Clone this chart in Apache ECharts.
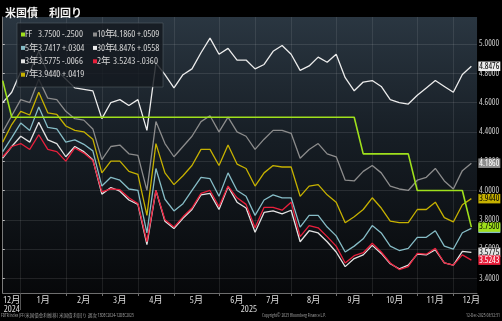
<!DOCTYPE html>
<html><head><meta charset="utf-8">
<script src="https://cdn.jsdelivr.net/npm/echarts@6/dist/echarts.min.js"></script>
<style>html,body{margin:0;padding:0;background:#000;}#c{width:502px;height:321px;}</style>
</head><body><div id="c"></div>
<script>
// Weekly (Friday) observation dates
const dates = ['2024-12-13','2024-12-20','2024-12-27','2025-01-03','2025-01-10','2025-01-17','2025-01-24','2025-01-31','2025-02-07','2025-02-14','2025-02-21','2025-02-28','2025-03-07','2025-03-14','2025-03-21','2025-03-28','2025-04-04','2025-04-11','2025-04-18','2025-04-25','2025-05-02','2025-05-09','2025-05-16','2025-05-23','2025-05-30','2025-06-06','2025-06-13','2025-06-20','2025-06-27','2025-07-04','2025-07-11','2025-07-18','2025-07-25','2025-08-01','2025-08-08','2025-08-15','2025-08-22','2025-08-29','2025-09-05','2025-09-12','2025-09-19','2025-09-26','2025-10-03','2025-10-10','2025-10-17','2025-10-24','2025-10-31','2025-11-07','2025-11-14','2025-11-21','2025-11-28','2025-12-05','2025-12-12'];

const ff  = [4.75,4.50,4.50,4.50,4.50,4.50,4.50,4.50,4.50,4.50, 4.50,4.50,4.50,4.50,4.50,4.50,4.50,4.50,4.50,4.50, 4.50,4.50,4.50,4.50,4.50,4.50,4.50,4.50,4.50,4.50, 4.50,4.50,4.50,4.50,4.50,4.50,4.50,4.50,4.50,4.50, 4.25,4.25,4.25,4.25,4.25,4.25, 4.00,4.00,4.00,4.00,4.00,4.00, 3.75];
const t10 = [4.40,4.51,4.62,4.60,4.76,4.63,4.62,4.54,4.49,4.48, 4.42,4.21,4.30,4.31,4.25,4.24,4.00,4.47,4.32,4.23, 4.30,4.37,4.47,4.51,4.40,4.50,4.40,4.37,4.28,4.35, 4.41,4.41,4.39,4.22,4.28,4.32,4.25,4.23,4.07,4.065, 4.13,4.17,4.12,4.03,4.01,4.00,4.07,4.09,4.15,4.065, 4.01,4.1351,4.1860];
const t30 = [4.60,4.67,4.81,4.81,4.95,4.80,4.82,4.76,4.70,4.69, 4.68,4.49,4.60,4.62,4.58,4.62,4.41,4.87,4.79,4.70, 4.79,4.83,4.94,5.04,4.93,4.97,4.89,4.89,4.83,4.86, 4.95,4.99,4.93,4.82,4.85,4.91,4.875,4.93,4.77,4.68, 4.74,4.75,4.71,4.62,4.60,4.59,4.65,4.70,4.75,4.71, 4.67,4.7918,4.8476];
const t7  = [4.33,4.45,4.54,4.515,4.67,4.53,4.52,4.44,4.41,4.40, 4.35,4.12,4.20,4.20,4.13,4.11,3.83,4.32,4.12,4.04, 4.10,4.17,4.28,4.28,4.17,4.31,4.18,4.15,4.03,4.12, 4.17,4.16,4.16,3.96,4.03,4.04,3.97,3.92,3.78,3.82, 3.87,3.95,3.88,3.79,3.78,3.78,3.87,3.87,3.92,3.815, 3.785,3.9021,3.9440];
const t5  = [4.265,4.36,4.46,4.41,4.57,4.43,4.42,4.33,4.345,4.315, 4.27,4.03,4.09,4.07,4.01,4.00,3.71,4.15,3.94,3.86, 3.91,4.00,4.09,4.08,3.96,4.12,4.00,3.96,3.83,3.935, 3.97,3.95,3.95,3.75,3.83,3.83,3.75,3.69,3.58,3.62, 3.67,3.76,3.71,3.62,3.59,3.605,3.68,3.68,3.725,3.62, 3.60,3.7113,3.7417];
const t3  = [4.22,4.30,4.37,4.33,4.465,4.345,4.32,4.23,4.30,4.265, 4.21,3.975,4.02,3.995,3.935,3.905,3.63,4.00,3.79,3.74, 3.81,3.87,3.97,3.98,3.87,4.025,3.92,3.88,3.715,3.85, 3.86,3.84,3.865,3.65,3.725,3.71,3.65,3.58,3.48,3.535, 3.56,3.625,3.57,3.50,3.465,3.49,3.565,3.56,3.595,3.505, 3.49,3.5841,3.5775];
const t2  = [4.23,4.30,4.32,4.28,4.38,4.28,4.265,4.20,4.29,4.255, 4.205,3.99,4.01,4.005,3.95,3.91,3.65,4.00,3.80,3.75, 3.82,3.88,3.98,4.00,3.89,4.03,3.95,3.905,3.745,3.885, 3.885,3.865,3.92,3.685,3.76,3.745,3.685,3.62,3.505,3.555, 3.575,3.64,3.58,3.505,3.46,3.48,3.57,3.565,3.605,3.505, 3.49,3.5603,3.5243];

const yTicks = [3.4,3.6,3.8,4.0,4.2,4.4,4.6,4.8,5.0];
const legendLeftCol  = ['FF','5年','3年','7年'];
const legendRightCol = ['10年','30年','2年'];
const titleText = '米国債　利回り';

// ---- derived layout from dates ----
const N = dates.length;
const xMax = N - 1 + 0.63;
const monthOf = d => +d.slice(5,7);
const bounds = [];
for (let i = 0; i < N - 1; i++) if (monthOf(dates[i]) !== monthOf(dates[i+1])) bounds.push(i);
const segEdges = [0].concat(bounds, [N + 1]);
const monthLabelPos = [], monthLabels = [];
const segMonths = [monthOf(dates[0])].concat(bounds.map(b => monthOf(dates[b+1])));
for (let k = 0; k < segEdges.length - 1; k++) {
  monthLabelPos.push((segEdges[k] + segEdges[k+1]) / 2);
  monthLabels.push(segMonths[k] + '月');
}
const yearBoundary = bounds.find(b => dates[b].slice(0,4) !== dates[b+1].slice(0,4));
const yearLabelPos = [monthLabelPos[0], (yearBoundary + xMax) / 2];
const yearLabels = [dates[0].slice(0,4), dates[N-1].slice(0,4)];

const FONT = "'Open Sans','Noto Sans CJK JP',sans-serif";
const FW = 'condensed';   // font-stretch keyword placed in the font shorthand
const seriesDefs = [
  {name:'10年', data:t10, color:'#8c8c8c', text:'#ffffff'},
  {name:'30年', data:t30, color:'#ececec', text:'#000000'},
  {name:'7年',  data:t7,  color:'#c6b100', text:'#000000'},
  {name:'5年',  data:t5,  color:'#86bcc6', text:'#000000'},
  {name:'3年',  data:t3,  color:'#e2e2e2', text:'#000000'},
  {name:'2年',  data:t2,  color:'#e8203c', text:'#ffffff'},
  {name:'FF',   data:ff,  color:'#9fe01c', text:'#000000'}
];
const byName = {};
seriesDefs.forEach(s => byName[s.name] = s);

const fmtChg = d => (d >= 0 ? '+' : '-') + Math.abs(d).toFixed(4).replace(/^0/, '');
function makeRich(nameW) {
  const base = {color:'#d4d4d4', fontSize:9.5, fontFamily:FONT, fontWeight:FW};
  const r = {n:Object.assign({width:nameW}, base), v:Object.assign({}, base)};
  seriesDefs.forEach((s, k) => { r['i' + k] = {width:4, height:4, backgroundColor:s.color, verticalAlign:'middle'}; });
  return r;
}
const legendFormatter = name => {
  const s = byName[name], k = seriesDefs.indexOf(s), d = s.data;
  const last = d[d.length-1], chg = last - d[d.length-2];
  return '{i' + k + '|}{n|' + name + '}{v|' + last.toFixed(4) + ' ' + fmtChg(chg) + '}';
};
function makeLegend(names, left, nameW) {
  return {
    data:names, left:left, top:29, padding:0, orient:'vertical',
    itemWidth:1, itemHeight:1, itemGap:2.4, icon:'rect', itemStyle:{opacity:0}, z:6,
    selectedMode:false,
    textStyle:{color:'#d4d4d4', fontSize:9.5, lineHeight:11, fontFamily:FONT, fontWeight:FW, rich:makeRich(nameW)},
    formatter:legendFormatter
  };
}

const series = seriesDefs.map(s => ({
  name: s.name, type:'line', data: s.data.map((v,i)=>[i,v]),
  showSymbol:false, symbol:'none', z: s.name === 'FF' ? 3 : 2,
  lineStyle:{width: s.name === 'FF' ? 1.6 : 1.3, color:s.color}, itemStyle:{color:s.color},
  emphasis:{disabled:true},
  endLabel:{show:true, formatter:p=>p.value[1].toFixed(4), backgroundColor:s.color, color:s.text,
    fontSize:8.5, fontFamily:FONT, fontWeight:FW, padding:[1,1,0,1], distance:7}
}));

const option = {
  backgroundColor:'#000',
  animation:false,
  title:{text:titleText, left:0, top:2, textStyle:{color:'#f2f2f2', fontSize:11, fontWeight:'bold', fontFamily:"'Noto Sans CJK JP',sans-serif"}},
  grid:{left:0, right:22, top:17, bottom:28, show:true, borderWidth:0,
    backgroundColor:{type:'linear', x:0, y:0, x2:0, y2:1, colorStops:[
      {offset:0, color:'#2a3641'}, {offset:0.45, color:'#161d24'}, {offset:1, color:'#07080a'}]}},
  legend:[makeLegend(legendLeftCol, 15, 13), makeLegend(legendRightCol, 87, 16)],
  xAxis:[{
    type:'value', min:0, max:xMax,
    axisLine:{show:true, lineStyle:{color:'#6e6e6e'}},
    axisTick:{show:true, customValues:bounds, length:3, lineStyle:{color:'#6e6e6e'}},
    splitLine:{show:true, lineStyle:{color:'rgba(255,255,255,0.09)'}},
    axisLabel:{customValues:monthLabelPos, color:'#dcdcdc', fontSize:9.5, margin:3, fontFamily:FONT, fontWeight:FW,
      formatter:v=>{const j = monthLabelPos.findIndex(p=>Math.abs(p-v)<1e-6); return j>=0 ? monthLabels[j] : '';}}
  },{
    type:'value', min:0, max:xMax, position:'bottom', offset:0,
    axisLine:{show:false},
    axisTick:{show:true, customValues:[yearBoundary], length:17, lineStyle:{color:'#555'}},
    splitLine:{show:false},
    axisLabel:{customValues:yearLabelPos, color:'#dcdcdc', fontSize:9.5, margin:12, fontFamily:FONT, fontWeight:FW,
      formatter:v=>{const j = yearLabelPos.findIndex(p=>Math.abs(p-v)<1e-6); return j>=0 ? yearLabels[j] : '';}}
  }],
  yAxis:{
    type:'value', position:'right', min:3.3, max:5.184,
    axisLine:{show:true, lineStyle:{color:'#7a7a7a'}},
    axisTick:{show:true, customValues:yTicks, length:2, lineStyle:{color:'#c0c0c0'}},
    splitLine:{show:true, lineStyle:{color:'rgba(255,255,255,0.1)'}},
    axisLabel:{customValues:yTicks, formatter:v=>v.toFixed(4), color:'#c8c8c8', fontSize:8.5, margin:2, fontFamily:FONT, fontWeight:FW}
  },
  graphic:[
    {type:'rect', z:5, silent:true, shape:{x:17, y:23, width:146, height:64},
      style:{fill:'rgba(20,25,31,0.82)', stroke:'rgba(90,98,108,0.55)', lineWidth:1}},
    {type:'text', left:1, top:313, silent:true, style:{text:'FDTR Index (FF/米国債金利推移) 米国債 利回り 週次 13DEC2024-12DEC2025', fill:'#9a9a9a', font:"condensed 4.5px 'Open Sans','Noto Sans CJK JP'"}},
    {type:'text', left:262, top:313, silent:true, style:{text:'Copyright© 2025 Bloomberg Finance L.P.', fill:'#9a9a9a', font:"condensed 4.5px 'Open Sans'"}},
    {type:'text', right:2, top:313, silent:true, style:{text:'12-Dec-2025 08:52:51', fill:'#9a9a9a', font:"condensed 4.5px 'Open Sans'"}}
  ],
  series:series
};
const chart = echarts.init(document.getElementById('c'), null, {renderer:'canvas'});
chart.setOption(option);
</script>
</body></html>
